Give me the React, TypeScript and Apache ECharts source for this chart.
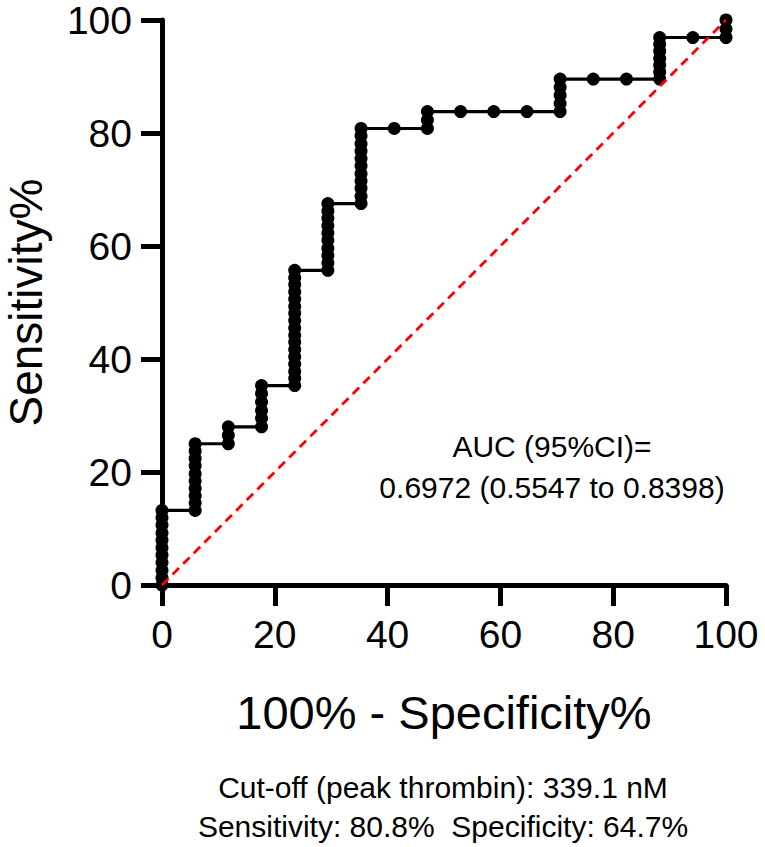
import React, { useEffect, useRef } from "react";
import * as echarts from "echarts";

// 100% - Specificity% steps (1/17 of the negatives)
const fprValues = [
  0, 5.88, 11.76, 17.65, 23.53, 29.41, 35.29, 41.18, 47.06, 52.94, 58.82,
  64.71, 70.59, 76.47, 82.35, 88.24, 94.12, 100,
];

// Sensitivity% points read at each 100%-Specificity% value (one run per column)
const sensitivityRuns: number[][] = [
  [0, 1.3, 2.6, 4.0, 5.3, 6.6, 7.9, 9.2, 10.6, 11.9, 13.2],
  [13.2, 14.5, 15.8, 17.1, 18.4, 19.7, 21.1, 22.4, 23.7, 25.0],
  [25.0, 26.5, 28.0],
  [28.0, 29.5, 30.9, 32.4, 33.9, 35.3],
  [35.3, 36.6, 37.8, 39.1, 40.4, 41.7, 43.0, 44.2, 45.5, 46.8, 48.1, 49.3, 50.6, 51.9, 53.2, 54.4, 55.7],
  [55.7, 57.0, 58.3, 59.6, 61.0, 62.3, 63.6, 64.9, 66.2, 67.5],
  [67.5, 68.8, 70.2, 71.5, 72.8, 74.2, 75.5, 76.8, 78.1, 79.5, 80.8],
  [80.8],
  [80.8, 82.3, 83.8],
  [83.8],
  [83.8],
  [83.8],
  [83.8, 85.2, 86.7, 88.1, 89.55],
  [89.55],
  [89.55],
  [89.55, 90.8, 92.0, 93.2, 94.5, 95.7, 96.9],
  [96.9],
  [96.9, 98.4, 100],
];

const referenceLine = [
  [0, 0],
  [100, 100],
];

const xTitle = "100% - Specificity%";
const yTitle = "Sensitivity%";
const aucLines = ["AUC (95%CI)=", "0.6972 (0.5547 to 0.8398)"];
const noteLines = [
  "Cut-off (peak thrombin): 339.1 nM",
  "Sensitivity: 80.8%  Specificity: 64.7%",
];

const FONT = "'Liberation Sans', Arial, Helvetica, sans-serif";

export default function App() {
  const ref = useRef<HTMLDivElement>(null);

  useEffect(() => {
    document.body.style.margin = "0";
    if (!ref.current) return;
    const chart = echarts.init(ref.current, undefined, { renderer: "svg" });

    const rocPoints: number[][] = [];
    sensitivityRuns.forEach((run, i) => {
      run.forEach((s) => rocPoints.push([fprValues[i], s]));
    });

    const axisCommon = {
      type: "value" as const,
      min: 0,
      max: 100,
      interval: 20,
      axisLine: { show: true, onZero: false, lineStyle: { color: "#000", width: 5 } },
      axisTick: { show: true, inside: false, length: 21, lineStyle: { color: "#000", width: 5 } },
      axisLabel: { color: "#000", fontSize: 39, fontFamily: FONT, margin: 30 },
      splitLine: { show: false },
      nameLocation: "middle" as const,
      nameTextStyle: { color: "#000", fontSize: 47, fontFamily: FONT },
    };

    chart.setOption({
      animation: false,
      backgroundColor: "#fff",
      grid: {
        left: 162,
        right: 39,
        top: 20,
        bottom: 262,
        containLabel: false,
        outerBoundsMode: "none",
      },
      xAxis: { ...axisCommon, name: xTitle, nameGap: 104 },
      yAxis: {
        ...axisCommon,
        name: yTitle,
        nameGap: 113,
        nameTextStyle: { color: "#000", fontSize: 46, fontFamily: FONT },
      },
      series: [
        {
          type: "line",
          data: rocPoints,
          symbol: "circle",
          symbolSize: 13,
          showSymbol: true,
          clip: false,
          lineStyle: { color: "#000", width: 3.2 },
          itemStyle: { color: "#000" },
          z: 2,
        },
        {
          type: "line",
          data: referenceLine,
          symbol: "none",
          clip: false,
          lineStyle: { color: "#ff0000", width: 2.8, type: [9, 6] },
          z: 3,
        },
      ],
      graphic: [
        ...aucLines.map((t, i) => ({
          type: "text",
          x: 552,
          y: 446 + i * 41,
          style: {
            text: t,
            font: `30px ${FONT}`,
            fill: "#000",
            align: "center",
            verticalAlign: "middle",
          },
        })),
        ...noteLines.map((t, i) => ({
          type: "text",
          x: 443,
          y: 787 + i * 39,
          style: {
            text: t,
            font: `30px ${FONT}`,
            fill: "#000",
            align: "center",
            verticalAlign: "middle",
          },
        })),
      ],
    });

    return () => chart.dispose();
  }, []);

  return <div ref={ref} style={{ width: 765, height: 847 }} />;
}
